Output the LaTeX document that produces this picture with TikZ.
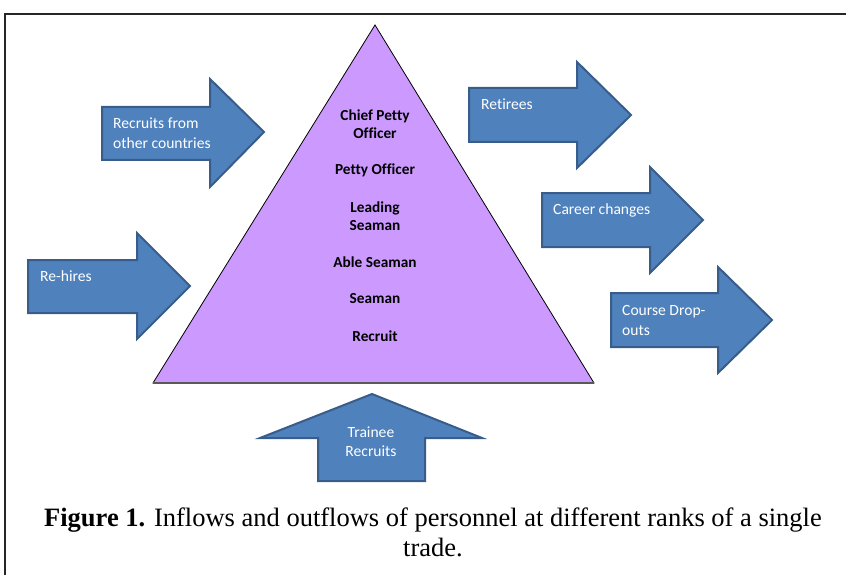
\documentclass[tikz,border=0pt]{standalone}
\usepackage{fontspec}
\setmainfont{Liberation Serif}
\newfontfamily\calibrifont[Ligatures=NoCommon]{Carlito}
\newfontfamily\timesfont{Liberation Serif}
\definecolor{arrowfill}{HTML}{4F81BD}
\definecolor{arrowline}{HTML}{385D8A}
\definecolor{pyr}{HTML}{CC99FF}
\tikzset{
  bigarrow/.style={fill=arrowfill, draw=arrowline, line width=2pt, line join=miter},
  arrowtext/.style={text=white, font=\calibrifont\fontsize{15.6}{19.5}\selectfont, align=left, inner sep=0pt, anchor=west},
  rank/.style={font=\calibrifont\bfseries\fontsize{15.3}{18}\selectfont, align=center, inner sep=0pt},
  caption/.style={font=\timesfont\fontsize{26.5}{30}\selectfont, align=center, inner sep=0pt}
}
\begin{document}
\begin{tikzpicture}[x=1pt,y=-1pt]
\useasboundingbox (0,0) rectangle (846,575);
% frame
\draw[line width=2pt, draw=black!85] (5,575) -- (5,14) -- (846,14);
% pyramid
\draw[fill=pyr, draw=black, line width=0.8pt] (375,25) -- (594,383) -- (153,383) -- cycle;
\draw[draw=black!65, line width=1.5pt] (153,383) -- (594,383);
\node[rank] (r1) at (375,124) {Chief Petty\\Officer};
\node[rank] (r2) at (375,170) {Petty Officer};
\node[rank] (r3) at (375,216) {Leading\\Seaman};
\node[rank] (r4) at (375,262) {Able Seaman};
\node[rank] (r5) at (375,299) {Seaman};
\node[rank] (r6) at (375,336) {Recruit};
% arrows (right-pointing)
\draw[bigarrow] (102,107) -- (210,107) -- (210,79) -- (264,132) -- (210,187) -- (210,160) -- (102,160) -- cycle;
\node[arrowtext] (a1) at (113,133) {Recruits from\\other countries};
\draw[bigarrow] (28,260) -- (137,260) -- (137,233) -- (190,286) -- (137,339) -- (137,313) -- (28,313) -- cycle;
\node[arrowtext] (a2) at (40,276) {Re-hires};
\draw[bigarrow] (469,88) -- (577,88) -- (577,62) -- (631,115) -- (577,168) -- (577,142) -- (469,142) -- cycle;
\node[arrowtext] (a3) at (481,104) {Retirees};
\draw[bigarrow] (542,193) -- (650,193) -- (650,167) -- (703,220) -- (650,273) -- (650,247) -- (542,247) -- cycle;
\node[arrowtext] (a4) at (553,210) {Career changes};
\draw[bigarrow] (611,293) -- (718,293) -- (718,267) -- (772,320) -- (718,373) -- (718,347) -- (611,347) -- cycle;
\node[arrowtext] (a5) at (622,320.5) {Course Drop-\\outs};
% up arrow
\draw[bigarrow] (372,394) -- (482,438) -- (425,438) -- (425,481) -- (318,481) -- (318,438) -- (260,438) -- cycle;
\node[arrowtext, anchor=center, align=center] (a6) at (371,441.5) {Trainee\\Recruits};
% caption
\node[caption] (cap) at (433,532) {\textbf{Figure 1.} Inflows and outflows of personnel at different ranks of a single\\trade.};
\end{tikzpicture}
\end{document}
